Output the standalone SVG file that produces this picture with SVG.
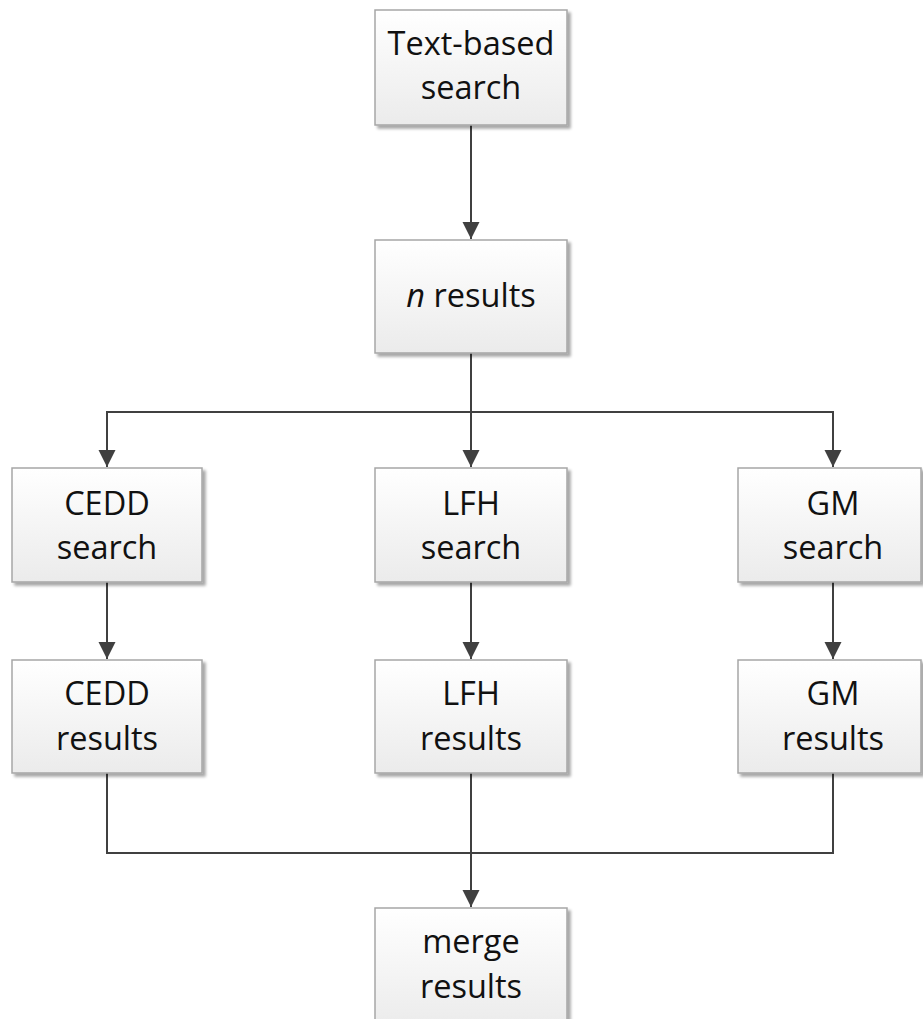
<svg xmlns="http://www.w3.org/2000/svg" width="923" height="1019" viewBox="0 0 923 1019">
  <defs>
    <linearGradient id="boxFill" x1="0" y1="0" x2="0" y2="1">
      <stop offset="0" stop-color="#ffffff"/>
      <stop offset="1" stop-color="#ebebeb"/>
    </linearGradient>
    <filter id="shadow" x="-10%" y="-10%" width="130%" height="130%">
      <feGaussianBlur in="SourceAlpha" stdDeviation="1.5"/>
      <feOffset dx="3" dy="3" result="b"/>
      <feComponentTransfer><feFuncA type="linear" slope="0.35"/></feComponentTransfer>
      <feMerge><feMergeNode/><feMergeNode in="SourceGraphic"/></feMerge>
    </filter>
    <marker id="arrow" markerWidth="20" markerHeight="20" refX="17" refY="8.5" orient="auto" markerUnits="userSpaceOnUse">
      <path d="M0,0 L17,8.5 L0,17 Z" fill="#404040"/>
    </marker>
  </defs>
  <style>
    .box { fill: url(#boxFill); stroke: #a6a6a6; stroke-width: 1.5; filter: url(#shadow); }
    .lbl { font-family: "Open Sans", "Liberation Sans", sans-serif; font-size: 32.5px; fill: #111111; text-anchor: middle; }
    .wire { fill: none; stroke: #404040; stroke-width: 2; }
  </style>

  <g id="connectors">
    <path class="wire" d="M471,125 V239" marker-end="url(#arrow)"/>
    <path class="wire" d="M471,353 V467" marker-end="url(#arrow)"/>
    <path class="wire" d="M471,412 H107 V467" marker-end="url(#arrow)"/>
    <path class="wire" d="M471,412 H833 V467" marker-end="url(#arrow)"/>
    <path class="wire" d="M107,582 V659" marker-end="url(#arrow)"/>
    <path class="wire" d="M471,582 V659" marker-end="url(#arrow)"/>
    <path class="wire" d="M833,582 V659" marker-end="url(#arrow)"/>
    <path class="wire" d="M107,773 V853 H833 V773"/>
    <path class="wire" d="M471,773 V907" marker-end="url(#arrow)"/>
  </g>

  <g id="text-search">
    <rect class="box" x="375" y="10" width="192" height="115"/>
    <text class="lbl" x="471" y="55">Text-based</text>
    <text class="lbl" x="471" y="99">search</text>
  </g>
  <g id="n-results">
    <rect class="box" x="375" y="240" width="192" height="113"/>
    <text class="lbl" x="471" y="307"><tspan font-style="italic">n</tspan> results</text>
  </g>
  <g id="cedd-search">
    <rect class="box" x="12" y="468" width="190" height="114"/>
    <text class="lbl" x="107" y="515">CEDD</text>
    <text class="lbl" x="107" y="559">search</text>
  </g>
  <g id="lfh-search">
    <rect class="box" x="375" y="468" width="192" height="114"/>
    <text class="lbl" x="471" y="515">LFH</text>
    <text class="lbl" x="471" y="559">search</text>
  </g>
  <g id="gm-search">
    <rect class="box" x="738" y="468" width="183" height="114"/>
    <text class="lbl" x="833" y="515">GM</text>
    <text class="lbl" x="833" y="559">search</text>
  </g>
  <g id="cedd-results">
    <rect class="box" x="12" y="660" width="190" height="113"/>
    <text class="lbl" x="107" y="705">CEDD</text>
    <text class="lbl" x="107" y="750">results</text>
  </g>
  <g id="lfh-results">
    <rect class="box" x="375" y="660" width="192" height="113"/>
    <text class="lbl" x="471" y="705">LFH</text>
    <text class="lbl" x="471" y="750">results</text>
  </g>
  <g id="gm-results">
    <rect class="box" x="738" y="660" width="183" height="113"/>
    <text class="lbl" x="833" y="705">GM</text>
    <text class="lbl" x="833" y="750">results</text>
  </g>
  <g id="merge-results">
    <rect class="box" x="375" y="908" width="192" height="120"/>
    <text class="lbl" x="471" y="953">merge</text>
    <text class="lbl" x="471" y="998">results</text>
  </g>
</svg>
